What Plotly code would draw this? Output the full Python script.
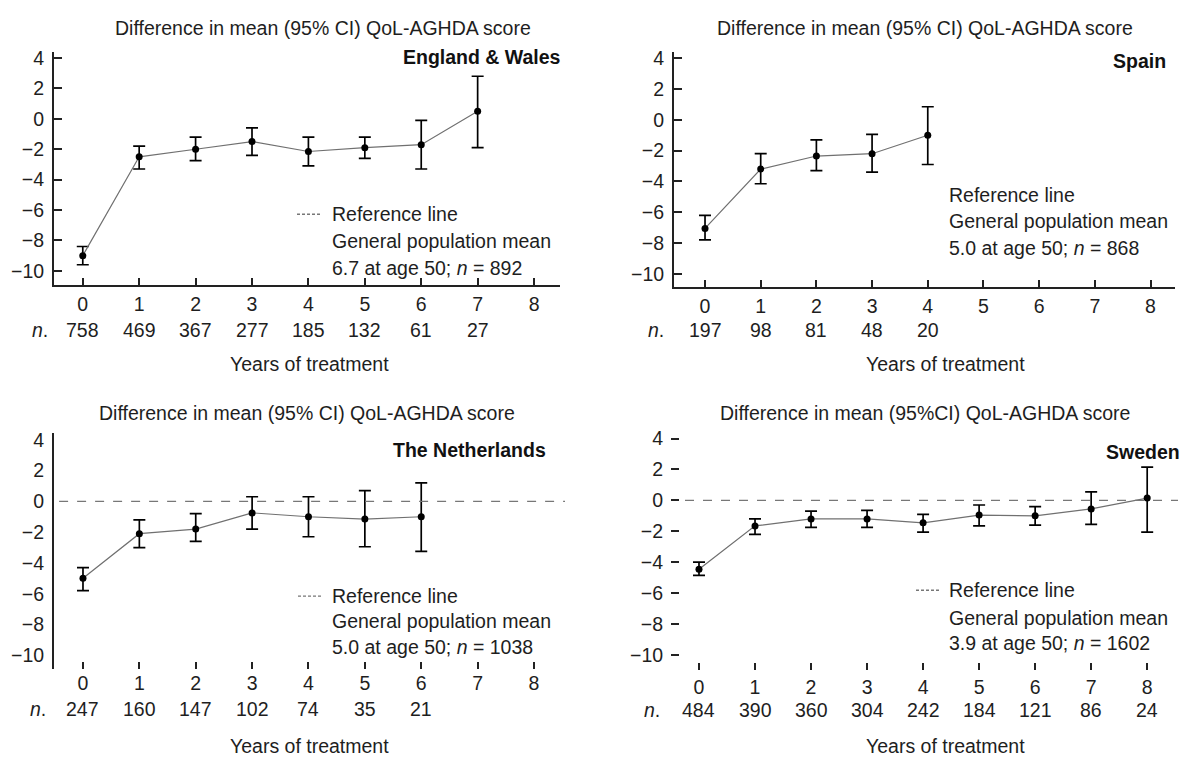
import plotly.graph_objects as go

W, H = 1183, 760

years = [0, 1, 2, 3, 4, 5, 6, 7, 8]

# England & Wales
ew_n = [758, 469, 367, 277, 185, 132, 61, 27]
ew_mean = [-9.0, -2.5, -2.0, -1.5, -2.15, -1.9, -1.7, 0.5]
ew_lo = [-9.6, -3.3, -2.75, -2.4, -3.1, -2.6, -3.3, -1.9]
ew_hi = [-8.4, -1.8, -1.2, -0.6, -1.2, -1.2, -0.1, 2.8]

# Spain
es_n = [197, 98, 81, 48, 20]
es_mean = [-7.05, -3.2, -2.35, -2.2, -1.0]
es_lo = [-7.8, -4.15, -3.3, -3.4, -2.9]
es_hi = [-6.2, -2.2, -1.3, -0.95, 0.85]

# The Netherlands
nl_n = [247, 160, 147, 102, 74, 35, 21]
nl_mean = [-5.0, -2.1, -1.8, -0.75, -1.0, -1.15, -1.0]
nl_lo = [-5.8, -3.0, -2.6, -1.8, -2.3, -2.95, -3.25]
nl_hi = [-4.3, -1.2, -0.8, 0.3, 0.3, 0.7, 1.2]

# Sweden
se_n = [484, 390, 360, 304, 242, 184, 121, 86, 24]
se_mean = [-4.45, -1.65, -1.2, -1.2, -1.45, -0.95, -1.0, -0.55, 0.15]
se_lo = [-4.85, -2.2, -1.75, -1.75, -2.05, -1.65, -1.6, -1.55, -2.05]
se_hi = [-4.0, -1.2, -0.7, -0.65, -0.9, -0.3, -0.4, 0.55, 2.15]

y_ticks = [4, 2, 0, -2, -4, -6, -8, -10]
y_ticktext = ["4", "2", "0", "\u22122", "\u22124", "\u22126", "\u22128", "\u221210"]

titles = ["Difference in mean (95% CI) QoL-AGHDA score",
          "Difference in mean (95% CI) QoL-AGHDA score",
          "Difference in mean (95% CI) QoL-AGHDA score",
          "Difference in mean (95%CI) QoL-AGHDA score"]
countries = ["England & Wales", "Spain", "The Netherlands", "Sweden"]
legend_lines = [
    ["Reference line", "General population mean", "6.7 at age 50; <i>n</i> = 892"],
    ["Reference line", "General population mean", "5.0 at age 50; <i>n</i> = 868"],
    ["Reference line", "General population mean", "5.0 at age 50; <i>n</i> = 1038"],
    ["Reference line", "General population mean", "3.9 at age 50; <i>n</i> = 1602"],
]

FONT = "Liberation Sans, Arial, sans-serif"
TXT = "#1e1e1e"
FS = 19.5


def px(x):
    return x / W


def py(y):
    return 1 - y / H


# panel geometry (pixel space)
panels = [
    dict(name="", means=ew_mean, lo=ew_lo, hi=ew_hi, n=ew_n,
         xdom=(54, 560), xr=(-0.51, 8.46), ydom=(47, 283), yr=(-10.95, 4.37),
         xline=True, yline=True, xticks="inside", yticks="inside", ref=False,
         title=(323, 22), label=(563, 52), leg=(330, [211, 238, 265]), dash=(297, 321),
         nlab=(40, 328), xlab=(309, 363), nrow=328),
    dict(name="2", means=es_mean, lo=es_lo, hi=es_hi, n=es_n,
         xdom=(674, 1175), xr=(-0.557, 8.44), ydom=(47, 285), yr=(-10.87, 4.38),
         xline=True, yline=True, xticks="inside", yticks="inside", ref=False,
         title=(925, 22), label=(1168, 56), leg=(947, [192, 218, 245]), dash=None,
         nlab=(656, 328), xlab=(945, 363), nrow=328),
    dict(name="3", means=nl_mean, lo=nl_lo, hi=nl_hi, n=nl_n,
         xdom=(54, 565), xr=(-0.514, 8.55), ydom=(433, 672), yr=(-10.9, 4.42),
         xline=False, yline=True, xticks="inside", yticks="", ref=True,
         title=(307, 412), label=(548, 450), leg=(330, [598, 623, 650]), dash=(298, 321),
         nlab=(38, 712), xlab=(309, 750), nrow=712),
    dict(name="4", means=se_mean, lo=se_lo, hi=se_hi, n=se_n,
         xdom=(680, 1178), xr=(-0.339, 8.55), ydom=(430, 665), yr=(-10.47, 4.53),
         xline=False, yline=False, xticks="outside", yticks="outside", ref=True,
         title=(925, 412), label=(1182, 452), leg=(947, [592, 620, 645]), dash=(916, 940),
         nlab=(652, 713), xlab=(945, 750), nrow=713),
]

fig = go.Figure()
layout = dict(width=W, height=H, margin=dict(l=0, r=0, t=0, b=0),
              paper_bgcolor="white", plot_bgcolor="white", showlegend=False,
              font=dict(family=FONT, size=FS, color=TXT))
annotations = []
shapes = []

for p in panels:
    k = p["name"]
    xa = "x" + k
    ya = "y" + k
    idx = int(k or 1) - 1
    m = p["means"]
    xs = years[:len(m)]
    up = [h - v for h, v in zip(p["hi"], m)]
    dn = [v - l for v, l in zip(m, p["lo"])]
    fig.add_trace(go.Scatter(
        x=xs, y=m, xaxis=xa, yaxis=ya, mode="lines+markers",
        line=dict(color="#707070", width=1.2),
        marker=dict(color="black", size=7),
        error_y=dict(type="data", array=up, arrayminus=dn, symmetric=False,
                     color="black", thickness=1.7, width=6),
        hoverinfo="skip"))
    layout["xaxis" + k] = dict(
        domain=[px(p["xdom"][0]), px(p["xdom"][1])], range=list(p["xr"]),
        anchor=ya, tickmode="array", tickvals=years, ticks=p["xticks"], ticklen=7,
        tickwidth=1.6, tickcolor="#222", showline=p["xline"], linecolor="#222",
        linewidth=2, showgrid=False, zeroline=False, fixedrange=True,
        tickfont=dict(family=FONT, size=FS, color=TXT))
    layout["yaxis" + k] = dict(
        domain=[py(p["ydom"][1]), py(p["ydom"][0])], range=list(p["yr"]),
        anchor=xa, tickmode="array", tickvals=y_ticks, ticktext=y_ticktext,
        ticks=p["yticks"], ticklen=8, tickwidth=1.6, tickcolor="#222",
        showline=p["yline"], linecolor="#222", linewidth=2, showgrid=False,
        zeroline=False, fixedrange=True, ticklabelstandoff=4,
        tickfont=dict(family=FONT, size=FS, color=TXT))
    if p["ref"]:
        shapes.append(dict(type="line", xref=xa + " domain", yref=ya,
                           x0=0.01, x1=1, y0=0, y1=0,
                           line=dict(color="#777", width=1.4, dash="dash")))
    annotations.append(dict(text=titles[idx], xref="paper", yref="paper",
                            x=px(p["title"][0]), y=py(p["title"][1]), showarrow=False,
                            xanchor="center", yanchor="middle",
                            font=dict(size=FS, color=TXT)))
    annotations.append(dict(text="<b>" + countries[idx] + "</b>",
                            xref="paper", yref="paper", x=px(p["label"][0]),
                            y=py(p["label"][1]), showarrow=False, xanchor="right",
                            yanchor="middle", font=dict(size=FS, color="#111")))
    lx, lys = p["leg"]
    for line, ly in zip(legend_lines[idx], lys):
        annotations.append(dict(text=line, xref="paper", yref="paper", x=px(lx),
                                y=py(ly), showarrow=False, xanchor="left",
                                yanchor="middle", font=dict(size=FS, color=TXT)))
    if p["dash"]:
        shapes.append(dict(type="line", xref="paper", yref="paper",
                           x0=px(p["dash"][0]), x1=px(p["dash"][1]),
                           y0=py(lys[0]), y1=py(lys[0]),
                           line=dict(color="#777", width=1.4, dash="3px,2px")))
    annotations.append(dict(text="<i>n</i>.", xref="paper", yref="paper",
                            x=px(p["nlab"][0]), y=py(p["nlab"][1]), showarrow=False,
                            xanchor="center", yanchor="middle",
                            font=dict(size=FS, color=TXT)))
    for xv, nv in zip(xs, p["n"]):
        annotations.append(dict(text=str(nv), xref=xa, yref="paper", x=xv,
                                y=py(p["nrow"]), showarrow=False, xanchor="center",
                                yanchor="middle", font=dict(size=FS, color=TXT)))
    annotations.append(dict(text="Years of treatment", xref="paper", yref="paper",
                            x=px(p["xlab"][0]), y=py(p["xlab"][1]), showarrow=False,
                            xanchor="center", yanchor="middle",
                            font=dict(size=FS, color=TXT)))

layout["annotations"] = annotations
layout["shapes"] = shapes
fig.update_layout(**layout)
fig.write_html("out.html")
